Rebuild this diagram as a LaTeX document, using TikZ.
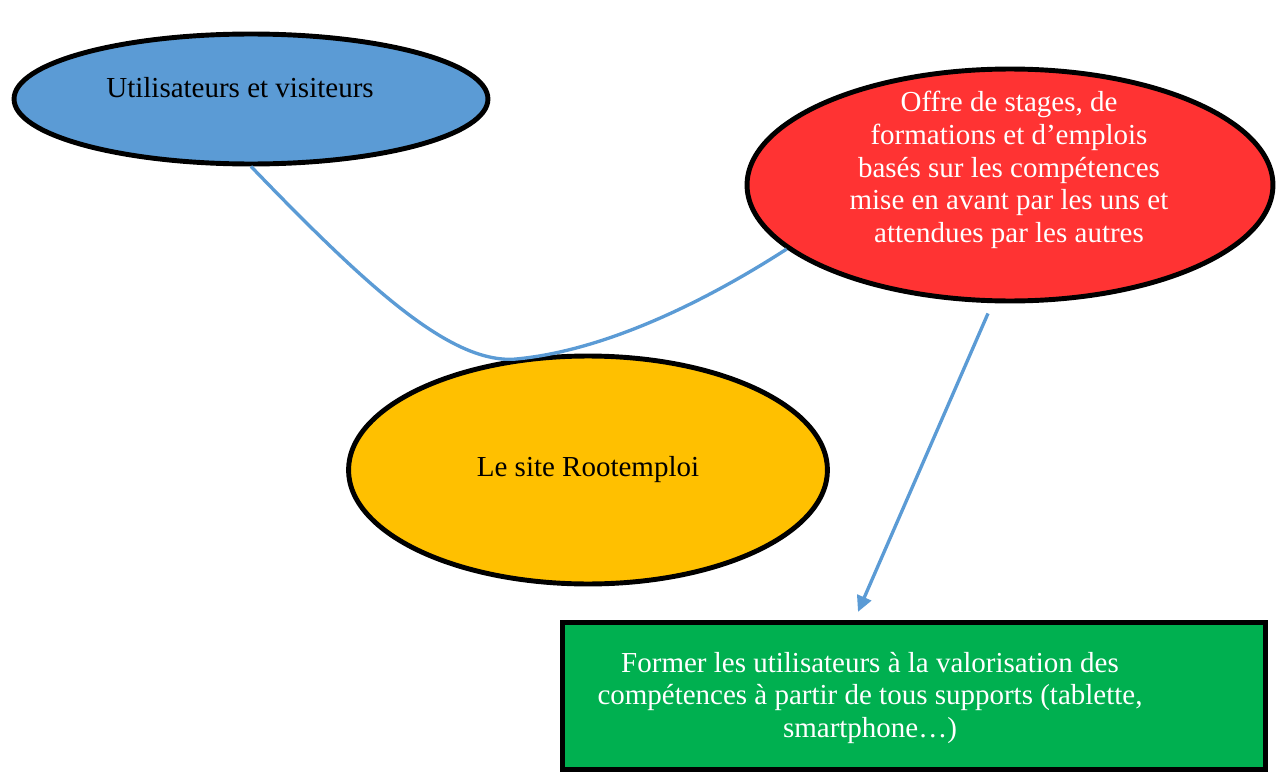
\documentclass[tikz,border=0pt]{standalone}
\usepackage{fontspec}
\setmainfont{Liberation Serif}
\usetikzlibrary{shapes.geometric,arrows.meta}
\definecolor{bleu}{HTML}{5B9BD5}
\definecolor{rouge}{HTML}{FF3333}
\definecolor{jaune}{HTML}{FFC000}
\definecolor{vert}{HTML}{00B050}
\begin{document}
\begin{tikzpicture}[x=0.02cm,y=-0.02cm,
    oval/.style={ellipse,draw=black,line width=2.8pt,inner sep=0pt},
    boite/.style={rectangle,draw=black,line width=3pt,inner sep=0pt},
    txt/.style={font=\fontsize{16.5}{18.7}\selectfont,align=center,inner sep=0pt},
    lien/.style={draw=bleu,line width=1.9pt}]
  \useasboundingbox (0,0) rectangle (1276,774);
  % les bulles
  \node[oval,fill=bleu,minimum width=9.48cm,minimum height=2.6cm] (util) at (251,99) {};
  \node[txt] (util-txt) at (240,88) {Utilisateurs et visiteurs};
  \node[oval,fill=rouge,minimum width=10.52cm,minimum height=4.64cm] (offre) at (1010,185) {};
  \node[txt,text=white] (offre-txt) at (1009,170) {Offre de stages, de\\formations et d’emplois\\basés sur les compétences\\mise en avant par les uns et\\attendues par les autres};
  \node[oval,fill=jaune,minimum width=9.58cm,minimum height=4.56cm,txt] (site) at (588,470) {Le site Rootemploi};
  \node[boite,fill=vert,minimum width=14.06cm,minimum height=2.94cm] (form) at (914,696) {};
  \node[txt,text=white] (form-txt) at (870,698) {Former les utilisateurs à la valorisation des\\compétences à partir de tous supports (tablette,\\smartphone…)};
  % les liens
  \draw[lien] (util.south) .. controls (370,290) and (450,362) .. (site.124)
    .. controls (600,352) and (700,305) .. (offre.196);
  \draw[lien,-{Triangle[length=9pt,width=8.5pt]}] ([shift={(-22,10)}]offre.south) -- ([shift={(-56,-8)}]form.north);
\end{tikzpicture}
\end{document}
